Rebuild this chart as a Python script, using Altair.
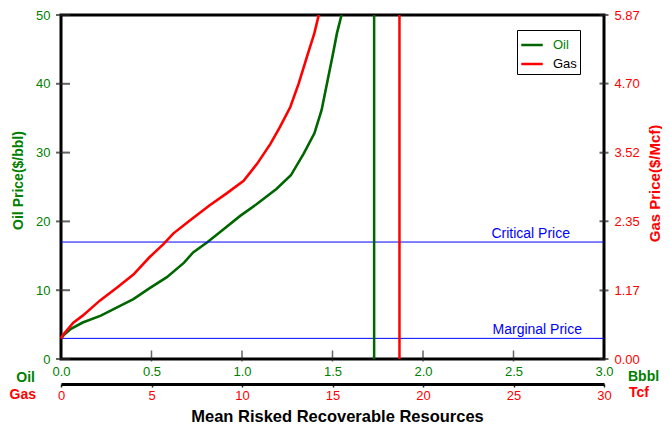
import altair as alt
import pandas as pd

# ---- data ----
SERIES = ["Oil", "Gas"]
OIL_RES = [0.0, 0.02, 0.05, 0.12, 0.22, 0.31, 0.40, 0.49, 0.585, 0.68, 0.73, 0.81,
           0.90, 0.99, 1.08, 1.19, 1.27, 1.34, 1.40, 1.44, 1.47, 1.50, 1.525, 1.55]
OIL_PRICE = [3.0, 3.6, 4.3, 5.3, 6.3, 7.5, 8.7, 10.3, 11.9, 14.0, 15.5, 17.0,
             18.9, 20.8, 22.5, 24.7, 26.7, 29.8, 32.8, 36.2, 40.1, 44.0, 47.4, 50.0]
GAS_RES = [0.0, 0.13, 0.68, 1.2, 2.16, 3.1, 4.0, 4.9, 5.66, 6.2, 7.1, 8.2,
           9.17, 10.09, 10.83, 11.57, 12.1, 12.67, 13.13, 13.6, 14.0, 14.24]
GAS_PRICE = [0.35, 0.42, 0.62, 0.74, 1.00, 1.22, 1.44, 1.74, 1.96, 2.14, 2.36, 2.62,
             2.83, 3.04, 3.33, 3.67, 3.96, 4.30, 4.70, 5.17, 5.56, 5.87]
OIL_MEAN = [1.73]
GAS_MEAN = [18.7]
CRITICAL_PRICE = [17]
MARGINAL_PRICE = [3]
PRICE_LABELS = ["Critical Price", "Marginal Price"]
OIL_X_TICKS = [0.0, 0.5, 1.0, 1.5, 2.0, 2.5, 3.0]
GAS_X_TICKS = [0, 5, 10, 15, 20, 25, 30]
OIL_Y_TICKS = [0, 10, 20, 30, 40, 50]
GAS_Y_TICKS = [0.00, 1.17, 2.35, 3.52, 4.70, 5.87]
SIDE_LABELS = ["Oil", "Gas"]
UNIT_LABELS = ["Bbbl", "Tcf"]

# ---- styles ----
GREEN = "#006600"
GREEN_TXT = "#008000"
RED = "#ff0000"
BLUE = "#0000ff"
TICK = "#222222"
FONT = "Liberation Sans"
W, H = 543, 344

oil_df = pd.DataFrame({"res": OIL_RES, "price": OIL_PRICE, "series": SERIES[0]})
gas_df = pd.DataFrame({"res": GAS_RES, "price": GAS_PRICE, "series": SERIES[1]})

oil_x = alt.Scale(domain=[0, 3], nice=False, zero=False)
oil_y = alt.Scale(domain=[0, 50], nice=False, zero=False)
gas_x = alt.Scale(domain=[0, 30], nice=False, zero=False)
gas_y = alt.Scale(domain=[0, 5.87], nice=False, zero=False)

color = alt.Color(
    "series:N",
    scale=alt.Scale(domain=SERIES, range=[GREEN, RED]),
    legend=alt.Legend(
        title=None, orient="none", legendX=456, legendY=15, direction="vertical",
        strokeColor="black", fillColor="white", padding=3,
        symbolType="stroke", symbolSize=460, symbolStrokeWidth=2.5,
        labelFont=FONT, labelFontSize=13, labelOffset=9, rowPadding=0,
        labelColor={"expr": f"datum.label == 'Oil' ? '{GREEN_TXT}' : 'black'"},
    ),
)

# ---------------- oil group ----------------
oil_curve = alt.Chart(oil_df).mark_line(strokeWidth=2.6).encode(
    x=alt.X("res:Q", scale=oil_x, axis=alt.Axis(
        orient="bottom", values=OIL_X_TICKS, format=".1f", title=None,
        labelColor=GREEN_TXT, domain=False, ticks=False, grid=False,
        labelPadding=6, labelFlush=False)),
    y=alt.Y("price:Q", scale=oil_y, axis=alt.Axis(
        orient="left", values=OIL_Y_TICKS, format="d", title="Oil Price($/bbl)",
        titleColor=GREEN_TXT, titleFontSize=14, titleFontWeight="bold",
        titleAngle=270, titleAlign="center", titleBaseline="middle",
        titleX=-43, titleY=165,
        labelColor=GREEN_TXT, domain=False, ticks=False, grid=False,
        labelPadding=11, labelFlush=False)),
    color=color,
)

oil_mean = alt.Chart(pd.DataFrame({"res": OIL_MEAN})).mark_rule(
    color=GREEN, strokeWidth=2.5).encode(x=alt.X("res:Q"))

price_df = pd.DataFrame({"price": CRITICAL_PRICE + MARGINAL_PRICE, "label": PRICE_LABELS})
price_lines = alt.Chart(price_df).mark_rule(color=BLUE, strokeWidth=1).encode(
    y=alt.Y("price:Q"))

critical_txt = alt.Chart(price_df.iloc[[0]]).mark_text(
    align="right", baseline="alphabetic", dy=-4, color=BLUE, font=FONT, fontSize=14
).encode(x=alt.value(509), y=alt.Y("price:Q"), text="label:N")

marginal_txt = alt.Chart(price_df.iloc[[1]]).mark_text(
    align="right", baseline="alphabetic", dy=-4, color=BLUE, font=FONT, fontSize=14
).encode(x=alt.value(521), y=alt.Y("price:Q"), text="label:N")

left_ticks = alt.Chart(pd.DataFrame({"price": OIL_Y_TICKS})).mark_tick(
    orient="horizontal", size=14, thickness=2, color=TICK
).encode(x=alt.value(2), y=alt.Y("price:Q"))

bottom_ticks = alt.Chart(pd.DataFrame({"res": OIL_X_TICKS[1:-1]})).mark_tick(
    orient="vertical", size=11, thickness=1.5, color=TICK
).encode(x=alt.X("res:Q"), y=alt.value(341))

side_df = pd.DataFrame({"t": SIDE_LABELS})
side_oil = alt.Chart(side_df.iloc[[0]]).mark_text(
    align="right", baseline="middle", font=FONT, fontSize=14, fontWeight="bold", color=GREEN_TXT
).encode(x=alt.value(-26), y=alt.value(363), text="t:N")
side_gas = alt.Chart(side_df.iloc[[1]]).mark_text(
    align="right", baseline="middle", font=FONT, fontSize=14, fontWeight="bold", color=RED
).encode(x=alt.value(-25), y=alt.value(380), text="t:N")

unit_df = pd.DataFrame({"t": UNIT_LABELS})
unit_oil = alt.Chart(unit_df.iloc[[0]]).mark_text(
    align="left", baseline="middle", font=FONT, fontSize=14, fontWeight="bold", color=GREEN_TXT
).encode(x=alt.value(567), y=alt.value(362), text="t:N")
unit_gas = alt.Chart(unit_df.iloc[[1]]).mark_text(
    align="left", baseline="middle", font=FONT, fontSize=14, fontWeight="bold", color=RED
).encode(x=alt.value(568), y=alt.value(378), text="t:N")

oil_group = alt.layer(oil_curve, price_lines, critical_txt, marginal_txt, oil_mean,
                      left_ticks, bottom_ticks, side_oil, side_gas, unit_oil, unit_gas)

# ---------------- gas group ----------------
gas_curve = alt.Chart(gas_df).mark_line(strokeWidth=2.6).encode(
    x=alt.X("res:Q", scale=gas_x, axis=alt.Axis(
        orient="bottom", offset=25, values=GAS_X_TICKS, format="d",
        title="Mean Risked Recoverable Resources", titleFontSize=16.5,
        titleFontWeight="bold", titleColor="black", titleX=276, titleY=32,
        titleBaseline="middle", titleAlign="center",
        labelColor=RED, domain=True, domainColor="black", domainWidth=3,
        ticks=True, tickSize=3, tickColor=TICK, tickWidth=1.5, grid=False,
        labelPadding=2, labelFlush=False)),
    y=alt.Y("price:Q", scale=gas_y, axis=alt.Axis(
        orient="right", values=GAS_Y_TICKS, format=".2f", title="Gas Price($/Mcf)",
        titleColor=RED, titleFontSize=15, titleFontWeight="bold",
        titleAngle=270, titleAlign="center", titleBaseline="middle",
        titleX=50, titleY=168,
        labelColor=RED, domain=False, ticks=False, grid=False,
        labelPadding=10, labelFlush=False)),
    color=color,
)

gas_mean = alt.Chart(pd.DataFrame({"res": GAS_MEAN})).mark_rule(
    color=RED, strokeWidth=2.5).encode(x=alt.X("res:Q"))

right_ticks = alt.Chart(pd.DataFrame({"price": GAS_Y_TICKS})).mark_tick(
    orient="horizontal", size=9, thickness=2, color=TICK
).encode(x=alt.value(W), y=alt.Y("price:Q"))

gas_group = alt.layer(gas_curve, gas_mean, right_ticks)

chart = alt.layer(oil_group, gas_group).resolve_scale(
    x="independent", y="independent"
).properties(
    width=W, height=H,
    autosize=alt.AutoSizeParams(type="none"),
    padding={"left": 53, "top": 7, "right": 58, "bottom": 66},
    background="white",
).configure_view(
    stroke="black", strokeWidth=3
).configure_axis(
    labelFont=FONT, labelFontSize=13, titleFont=FONT
)

chart.save("out.html", embed_options={"renderer": "svg", "actions": False})
